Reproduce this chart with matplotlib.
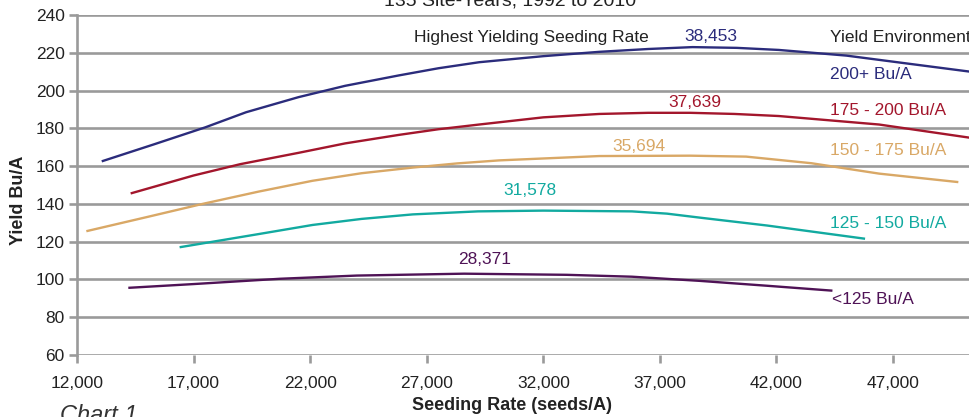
import matplotlib.pyplot as plt

# yield curves (seeding rate, bu/A)
blue_x = [13060, 15300, 17500, 19250, 21500, 23500, 25800, 27500, 29250, 32000, 34400, 36500,
          38400, 40300, 42100, 45000, 47800, 50300]
blue_y = [162.5, 171.5, 180.5, 188.5, 196.5, 202.5, 208, 211.8, 215, 218.2, 220.5, 222,
          223, 222.6, 221.5, 218.5, 214, 210]

red_x = [14300, 17000, 19000, 21500, 23500, 25800, 27500, 29250, 32000, 34400, 36500, 38300,
         40200, 42100, 46400, 50300]
red_y = [145.5, 155, 161, 167, 172, 176.5, 179.5, 182, 185.8, 187.6, 188.2, 188.2,
         187.6, 186.5, 182, 175]

tan_x = [12400, 15000, 17400, 19800, 22100, 24200, 26400, 28300, 30100, 34400, 38300, 40700,
         43500, 46400, 49800]
tan_y = [125.5, 133, 140, 146.5, 152.2, 156.2, 159.2, 161.4, 163, 165.3, 165.5, 165,
         161.5, 156, 151.5]

teal_x = [16400, 19800, 22100, 24200, 26400, 29200, 32000, 35800, 37300, 38700, 41600, 45800]
teal_y = [117, 124, 128.8, 132, 134.4, 136, 136.4, 136, 134.8, 132.7, 128.5, 121.5]

purple_x = [14200, 17000, 20700, 24000, 28600, 33000, 35800, 38700, 41600, 44400]
purple_y = [95.5, 97.5, 100.3, 102, 103, 102.4, 101.4, 99.2, 96.6, 94]

env_labels = ['200+ Bu/A', '175 - 200 Bu/A', '150 - 175 Bu/A', '125 - 150 Bu/A', '<125 Bu/A']
best_rates = ['38,453', '37,639', '35,694', '31,578', '28,371']
colors = ['#2b2c7c', '#a3162c', '#d9a866', '#12aaa0', '#4f1356']

x_ticks = [12000, 17000, 22000, 27000, 32000, 37000, 42000, 47000]
y_ticks = [60, 80, 100, 120, 140, 160, 180, 200, 220, 240]


def main():
    plt.rcParams['font.family'] = ['Liberation Sans Narrow', 'Liberation Sans', 'DejaVu Sans']
    fig = plt.figure(figsize=(9.7, 4.17), dpi=100)
    ax = fig.add_axes([0.0794, 0.149, 0.9206, 0.815])

    grid_c = '#9a9a9a'
    for yv in y_ticks:
        ax.axhline(yv, color=grid_c, lw=1.9, zorder=1)

    series = [(blue_x, blue_y), (red_x, red_y), (tan_x, tan_y), (teal_x, teal_y), (purple_x, purple_y)]
    for (xs, ys), c in zip(series, colors):
        ax.plot(xs, ys, color=c, lw=1.7, zorder=3, solid_capstyle='butt', solid_joinstyle='round')

    ax.set_xlim(12000, 50300)
    ax.set_ylim(60, 240)
    ax.set_xticks(x_ticks)
    ax.set_xticklabels(['{:,}'.format(v) for v in x_ticks])
    ax.set_yticks(y_ticks)
    for s in ['top', 'right', 'bottom']:
        ax.spines[s].set_visible(False)
    ax.spines['left'].set_color(grid_c)
    ax.spines['left'].set_linewidth(1.9)
    ax.tick_params(axis='both', colors=grid_c, width=1.9, length=6, labelsize=12.5, labelcolor='#222222')
    ax.tick_params(axis='x', pad=9)
    ax.tick_params(axis='y', pad=3)

    # peak labels
    peak_pos = [(39170, 228.5), (38480, 193.4), (36120, 170.3), (31440, 147.2), (29470, 110.5)]
    for (px, py), txt, c in zip(peak_pos, best_rates, colors):
        ax.text(px, py, txt, color=c, fontsize=12.5, ha='center', va='center')

    env_pos = [(44275, 208.6), (44275, 189.2), (44275, 168.2), (44275, 129.4), (44400, 89.5)]
    for (px, py), txt, c in zip(env_pos, env_labels, colors):
        ax.text(px, py, txt, color=c, fontsize=12.5, ha='left', va='center')

    ax.text(31490, 228.3, 'Highest Yielding Seeding Rate', color='#222222', fontsize=12.5,
            ha='center', va='center')
    ax.text(44275, 228.3, 'Yield Environment', color='#222222', fontsize=12.5,
            ha='left', va='center')

    fig.text(0.526, 1 - 5 / 417, '135 Site-Years, 1992 to 2010', color='#222222', fontsize=14,
             ha='center', va='baseline')
    fig.text(0.528, 1 - 405 / 417, 'Seeding Rate (seeds/A)', fontsize=13, fontweight='bold',
             color='#222222', ha='center', va='center')
    fig.text(0.019, 1 - 200 / 417, 'Yield Bu/A', fontsize=13, fontweight='bold', rotation=90,
             color='#222222', ha='center', va='center')
    fig.text(0.062, -0.012, 'Chart 1', fontsize=17, style='italic', color='#333333',
             ha='left', va='baseline')

    fig.savefig('out.png', dpi=100)


if __name__ == '__main__':
    main()
